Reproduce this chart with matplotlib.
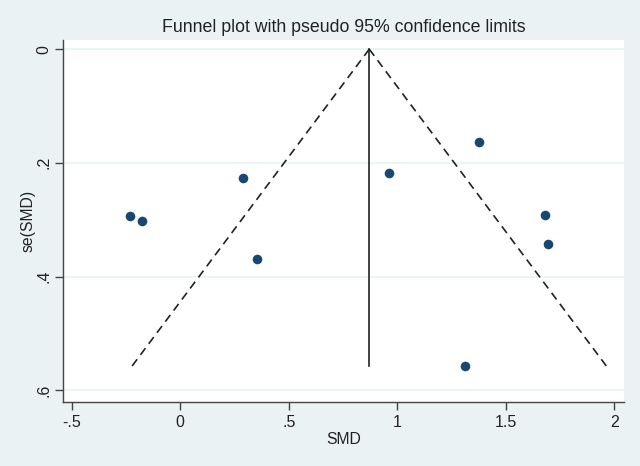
import matplotlib
matplotlib.use("Agg")
import matplotlib.pyplot as plt
import numpy as np

# study estimates
smd = [-0.23, -0.175, 0.29, 0.355, 0.963, 1.378, 1.682, 1.696, 1.313]
se_smd = [0.293, 0.303, 0.226, 0.370, 0.218, 0.163, 0.291, 0.342, 0.558]

pooled = 0.871
se_max = 0.558

x_ticks = [-0.5, 0, 0.5, 1, 1.5, 2]
x_labels = ["-.5", "0", ".5", "1", "1.5", "2"]
y_ticks = [0, 0.2, 0.4, 0.6]
y_labels = ["0", ".2", ".4", ".6"]

bg = "#EAF2F3"
navy = "#1A476F"

plt.rcParams["font.family"] = ["Liberation Sans", "DejaVu Sans"]

fig = plt.figure(figsize=(6.4, 4.66), dpi=100, facecolor=bg)
ax = fig.add_axes([0.0984, 0.137, 0.877, 0.777])
ax.set_facecolor("white")

for yv in y_ticks:
    ax.axhline(yv, color=bg, linewidth=1.2, zorder=0)

se_line = np.array([0, se_max])
ax.plot([pooled, pooled], se_line, color="#222222", linewidth=1.2)
ax.plot(pooled - 1.96 * se_line, se_line, color="#222222", linewidth=1.2,
        linestyle=(0, (5, 3.3)))
ax.plot(pooled + 1.96 * se_line, se_line, color="#222222", linewidth=1.2,
        linestyle=(0, (5, 3.3)))

ax.scatter(smd, se_smd, s=48, color=navy, zorder=3, linewidths=0)

ax.set_xlim(-0.54, 2.046)
ax.set_ylim(0.621, -0.016)
ax.set_xticks(x_ticks)
ax.set_xticklabels(x_labels)
ax.set_yticks(y_ticks)
ax.set_yticklabels(y_labels, rotation=90, va="center")

for s in ["top", "right"]:
    ax.spines[s].set_visible(False)
for s in ["left", "bottom"]:
    ax.spines[s].set_color("#444444")
    ax.spines[s].set_linewidth(1.0)
ax.tick_params(colors="#444444", labelcolor="#222222", labelsize=11.5,
               length=6, width=1.0)
ax.tick_params(axis="y", pad=2)

ax.set_xlabel("SMD", fontsize=11.3, color="#222222", labelpad=1)
ax.set_ylabel("se(SMD)", fontsize=11.3, color="#222222", labelpad=1)
ax.set_title("Funnel plot with pseudo 95% confidence limits", fontsize=12.8,
             color="#222222", pad=6)

fig.savefig("out.png", dpi=100, facecolor=bg)
